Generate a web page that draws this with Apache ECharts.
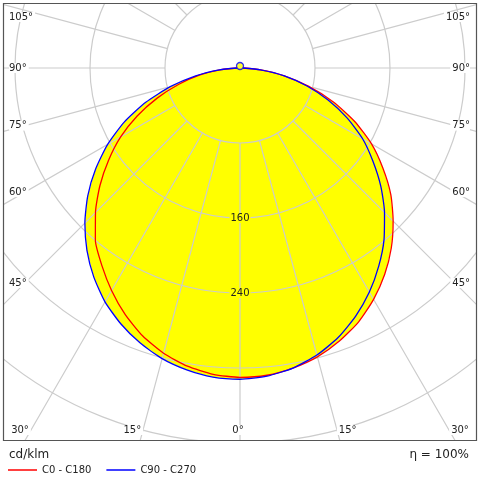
<!DOCTYPE html>
<html>
<head>
<meta charset="utf-8">
<script src="https://cdn.jsdelivr.net/npm/echarts@6/dist/echarts.min.js"></script>
<style>
html,body{margin:0;padding:0;background:#fff;}
#chart{width:480px;height:480px;}
</style>
</head>
<body>
<div id="chart"></div>
<script>
// ---- data (cd/klm) ----
const gammaAngles = [0,5,10,15,20,25,30,35,40,45,50,55,60,65,70,75,80,85,90];
const c0   = [330,329,325,319,310,299,285,269,251,231,210,186,162,135,106,76,48,22,3];
const c180 = [330,328,323,315,304,290,274,257,240,218,195,171,147,121,94,68,44,20,3];
const c90  = [332,330,325,317,306,292,276,258,239,218,196,173,151,126,100,74,48,22,3];
const c270 = [332,331,327,321,312,301,288,272,254,234,212,188,163,136,107,77,48,22,3];
const radiusTicks = [80,160,240,320,400,480];
const shownRadiusLabels = [160,240];
const angleLabelValues = [0,15,30,45,60,75,90,105];
const seriesNames = ['C0 - C180','C90 - C270'];
const unitText = 'cd/klm';
const etaText = 'η = 100%';

// ---- build polar point lists: left half uses angle γ, right half uses 360-γ ----
function halfPlane(leftVals, rightVals){
  const pts = [];
  for (let i = gammaAngles.length - 1; i >= 0; i--) pts.push([leftVals[i], gammaAngles[i]]);
  for (let i = 1; i < gammaAngles.length; i++) pts.push([rightVals[i], 360 - gammaAngles[i]]);
  return pts;
}
const redPts  = halfPlane(c180, c0);
const bluePts = halfPlane(c270, c90);
const fillPts = halfPlane(
  c270.map((v,i)=>Math.max(v, c180[i])),
  c0.map((v,i)=>Math.max(v, c90[i]))
);

// ---- layout ----
const CX = 240, CY = 68;
const RMAX = 450;                 // pixel radius of the outer tick value
const R0 = RMAX * radiusTicks[0] / radiusTicks[radiusTicks.length-1];
const FR = {x0:3, y0:3, x1:477, y1:441};
const FONT = 'DejaVu Sans';
const GRID = '#cccccc';

const angleTexts = [];
angleLabelValues.forEach(g => {
  const rad = g * Math.PI / 180;
  if (g <= 30) {
    const dx = 402 * Math.tan(rad);
    [-1, 1].forEach(s => {
      if (g === 0 && s === 1) return;
      let x = CX + s * dx;
      x = Math.max(20, Math.min(460, x));
      angleTexts.push({type:'text', z:102, x: g === 0 ? CX - 2 : x, y: 430,
        style:{text: g + '°', font: '10px "' + FONT + '"', fill:'#222', align:'center', verticalAlign:'middle',
               backgroundColor:'#fff', padding:[0,2]}});
    });
  } else {
    let y = CY + 215 * Math.cos(rad) / Math.sin(rad);
    y = Math.max(17, y);
    angleTexts.push({type:'text', z:102, x: 9, y: y,
      style:{text: g + '°', font: '10px "' + FONT + '"', fill:'#222', align:'left', verticalAlign:'middle',
             backgroundColor:'#fff', padding:[0,2,0,0]}});
    angleTexts.push({type:'text', z:102, x: 470, y: y,
      style:{text: g + '°', font: '10px "' + FONT + '"', fill:'#222', align:'right', verticalAlign:'middle',
             backgroundColor:'#fff', padding:[0,0,0,2]}});
  }
});

const chart = echarts.init(document.getElementById('chart'));
chart.setOption({
  animation: false,
  backgroundColor: '#fff',
  polar: [
    { center: [CX, CY], radius: [0, RMAX] },      // data polar
    { center: [CX, CY], radius: [R0, RMAX] }      // grid polar
  ],
  angleAxis: [
    { polarIndex: 0, type: 'value', min: 0, max: 360, startAngle: 270, clockwise: true,
      axisLine: {show: false}, axisTick: {show: false}, axisLabel: {show: false}, splitLine: {show: false} },
    { polarIndex: 1, type: 'value', min: 0, max: 360, interval: 15, startAngle: 270, clockwise: true, z: 2,
      axisLine: {show: false}, axisTick: {show: false}, axisLabel: {show: false},
      splitLine: {show: true, lineStyle: {color: GRID, width: 1.2}} }
  ],
  radiusAxis: [
    { polarIndex: 0, type: 'value', min: 0, max: radiusTicks[radiusTicks.length-1],
      axisLine: {show: false}, axisTick: {show: false}, axisLabel: {show: false}, splitLine: {show: false} },
    { polarIndex: 1, type: 'value', min: radiusTicks[0], max: radiusTicks[radiusTicks.length-1], interval: 80, z: 3,
      axisLine: {show: false}, axisTick: {show: false},
      splitLine: {show: true, lineStyle: {color: GRID, width: 1.2}},
      axisLabel: {
        show: true, margin: 0, align: 'center', verticalAlign: 'middle',
        fontFamily: FONT, fontSize: 10, color: '#222',
        backgroundColor: '#ffff00', padding: [0, 1],
        formatter: v => shownRadiusLabels.indexOf(v) >= 0 ? String(v) : ''
      } }
  ],
  legend: {
    data: seriesNames, left: 3, top: 460, z: 110,
    icon: 'rect', itemWidth: 29, itemHeight: 1.5, itemGap: 15,
    textStyle: {fontFamily: FONT, fontSize: 10, color: '#222'}
  },
  series: [
    {
      type: 'custom', coordinateSystem: 'polar', polarIndex: 0, z: 1, silent: true,
      data: fillPts,
      renderItem: function(params, api){
        if (params.dataIndex !== 0) return null;
        const pts = fillPts.map(p => api.coord(p));
        return {type: 'polygon', shape: {points: pts}, style: {fill: '#ffff00', stroke: null}};
      }
    },
    {
      name: seriesNames[0], type: 'line', coordinateSystem: 'polar', polarIndex: 0, z: 4, clip: false,
      data: redPts, symbol: 'none', smooth: 0.2,
      lineStyle: {color: '#ff0000', width: 1.3}, itemStyle: {color: '#ff0000'}
    },
    {
      name: seriesNames[1], type: 'line', coordinateSystem: 'polar', polarIndex: 0, z: 5, clip: false,
      data: bluePts, symbol: 'none', smooth: 0.2,
      lineStyle: {color: '#0000ff', width: 1.3}, itemStyle: {color: '#0000ff'}
    },
    {
      type: 'scatter', coordinateSystem: 'polar', polarIndex: 0, z: 6, clip: false, silent: true,
      data: [[0, 0]], symbol: 'circle', symbolSize: 7, symbolOffset: [0, -2],
      itemStyle: {color: '#ffff00', borderColor: '#0000ff', borderWidth: 1.3}
    }
  ],
  graphic: [
    {type:'rect', z:100, silent:true, shape:{x:0, y:0, width:480, height:FR.y0}, style:{fill:'#fff'}},
    {type:'rect', z:100, silent:true, shape:{x:0, y:0, width:FR.x0, height:480}, style:{fill:'#fff'}},
    {type:'rect', z:100, silent:true, shape:{x:FR.x1, y:0, width:480-FR.x1, height:480}, style:{fill:'#fff'}},
    {type:'rect', z:100, silent:true, shape:{x:0, y:FR.y1, width:480, height:480-FR.y1}, style:{fill:'#fff'}},
    {type:'rect', z:101, silent:true, shape:{x:FR.x0+0.5, y:FR.y0+0.5, width:FR.x1-FR.x0-1, height:FR.y1-FR.y0-1},
      style:{fill:null, stroke:'#555', lineWidth:1.2}},
    ...angleTexts,
    {type:'text', z:102, x:9, y:455, style:{text: unitText, font:'12px "' + FONT + '"', fill:'#222', align:'left', verticalAlign:'middle'}},
    {type:'text', z:102, x:469, y:455, style:{text: etaText, font:'12px "' + FONT + '"', fill:'#222', align:'right', verticalAlign:'middle'}}
  ]
});
</script>
</body>
</html>
